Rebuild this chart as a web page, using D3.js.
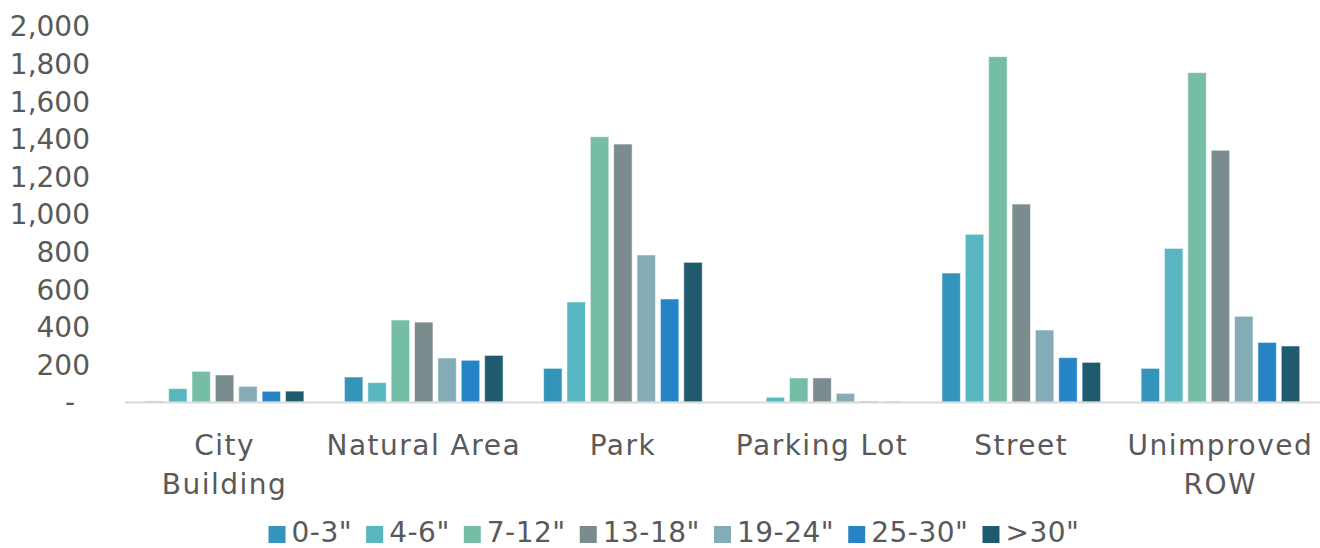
<!DOCTYPE html>
<html>
<head>
<meta charset="utf-8">
<script src="https://cdn.jsdelivr.net/npm/d3@7"></script>
<style>
  html, body { margin: 0; padding: 0; background: #fff; }
  svg { display: block; }
  text { font-family: "DejaVu Sans", sans-serif; fill: #595959; }
</style>
</head>
<body>
<svg id="chart" width="1320" height="548"></svg>
<script>
const categories = ["City Building", "Natural Area", "Park", "Parking Lot", "Street", "Unimproved ROW"];
const series = ['0-3"', '4-6"', '7-12"', '13-18"', '19-24"', '25-30"', '>30"'];
const colors = ["#3494BA", "#58B6C0", "#75BDA7", "#7A8C8E", "#84ACB6", "#2683C6", "#1F5A6E"];
// values per series, in category order
const s0_3   = [5, 133, 179, 0, 686, 179];
const s4_6   = [71, 103, 532, 25, 892, 817];
const s7_12  = [163, 436, 1411, 128, 1837, 1752];
const s13_18 = [144, 425, 1372, 128, 1053, 1339];
const s19_24 = [83, 234, 782, 46, 383, 456];
const s25_30 = [57, 222, 548, 5, 236, 317];
const s30p   = [58, 248, 743, 2, 211, 298];
const seriesValues = [s0_3, s4_6, s7_12, s13_18, s19_24, s25_30, s30p];
const yTicks = [0, 200, 400, 600, 800, 1000, 1200, 1400, 1600, 1800, 2000];
const labelLines = {"City Building": ["City", "Building"], "Unimproved ROW": ["Unimproved", "ROW"]};

const svg = d3.select("#chart");
const plotLeft = 125, plotRight = 1320, plotTop = 26, plotBottom = 402;

const y = d3.scaleLinear().domain([0, 2000]).range([plotBottom, plotTop]);
const x0 = d3.scaleBand().domain(categories).range([plotLeft, plotRight]).paddingInner(0.18).paddingOuter(0.09);
const x1 = d3.scaleBand().domain(series).range([0, x0.bandwidth()]).paddingInner(0.21).paddingOuter(0.1);

// Y axis (labels only)
const fmt = d3.format(",");
const yAxis = d3.axisLeft(y).tickValues(yTicks).tickSize(0).tickPadding(0)
  .tickFormat(d => d === 0 ? "-" : fmt(d));
const gy = svg.append("g").attr("transform", "translate(90,0)").call(yAxis);
gy.select(".domain").remove();
gy.selectAll("text").attr("font-size", 28).attr("font-family", "DejaVu Sans, sans-serif")
  .attr("fill", "#595959").attr("dy", "0.35em")
  .attr("dx", d => d === 0 ? -15 : 0);

// Bars
const groups = svg.append("g").selectAll("g")
  .data(categories).join("g")
  .attr("transform", d => `translate(${x0(d)},0)`);
groups.selectAll("rect")
  .data((c, ci) => series.map((s, si) => ({s, si, v: seriesValues[si][ci]})))
  .join("rect")
  .attr("x", d => x1(d.s))
  .attr("width", x1.bandwidth())
  .attr("y", d => y(d.v))
  .attr("height", d => plotBottom - y(d.v))
  .attr("fill", d => colors[d.si])
  .attr("stroke", "rgba(255,255,255,0.55)")
  .attr("stroke-width", 1);

// baseline
svg.append("line").attr("x1", plotLeft).attr("x2", plotRight).attr("y1", plotBottom + 0.5).attr("y2", plotBottom + 0.5)
  .attr("stroke", "#d9d9d9").attr("stroke-width", 2);

// Category labels
const xAxisG = svg.append("g");
categories.forEach(c => {
  const lines = labelLines[c] || [c];
  const cx = x0(c) + x0.bandwidth() / 2;
  const t = xAxisG.append("text")
    .attr("x", cx)
    .attr("y", 455)
    .attr("text-anchor", "middle")
    .attr("font-size", 28)
    .attr("letter-spacing", 1.5);
  lines.forEach((l, i) => {
    t.append("tspan").attr("x", cx).attr("y", 455 + i * 39).text(l);
  });
});

// Legend
const lg = svg.append("g");
const items = lg.selectAll("g").data(series).join("g");
items.append("rect").attr("width", 17).attr("height", 17).attr("y", 526)
  .attr("fill", (d, i) => colors[i]);
items.append("text").attr("x", 23).attr("y", 542).attr("font-size", 28)
  .attr("letter-spacing", 0.5).text(d => d);
let xpos = 0;
const positions = [];
items.each(function(d) {
  const w = d3.select(this).select("text").node().getComputedTextLength();
  positions.push(xpos);
  xpos += 23 + w + 14;
});
const total = xpos - 14;
const startX = 674 - total / 2;
items.attr("transform", (d, i) => `translate(${startX + positions[i]},0)`);
</script>
</body>
</html>
